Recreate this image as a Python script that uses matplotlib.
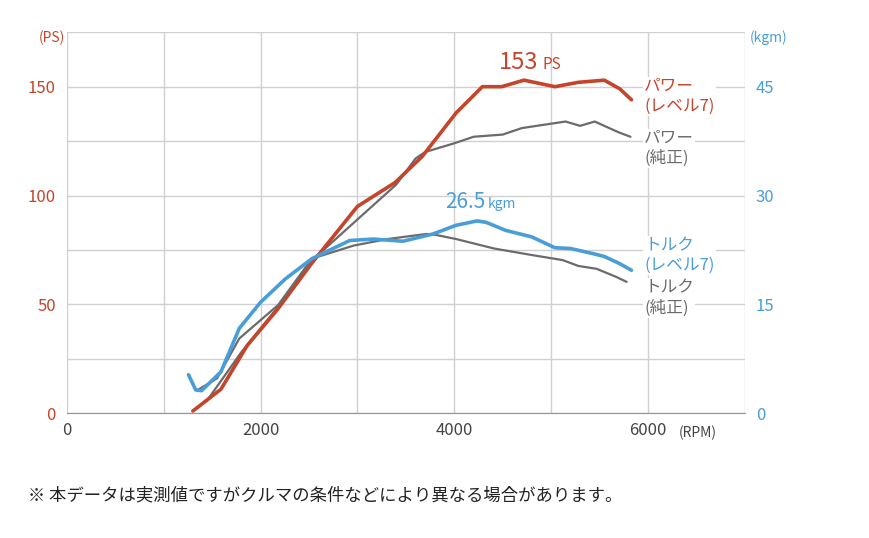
import numpy as np
import matplotlib.pyplot as plt

plt.rcParams['font.family'] = ['Noto Sans CJK JP', 'DejaVu Sans']

RED = "#c4452b"
BLUE = "#4a9ed8"
GRAY = "#6b6b6b"

# power (PS) - level 7
pw7_rpm = [1300, 1590, 1860, 2180, 2530, 3000, 3390, 3670, 4020, 4290, 4490, 4720, 5040, 5280, 5550, 5710, 5830]
pw7_ps = [1, 11, 31, 48, 69, 95, 106, 118, 138, 150, 150, 153, 150, 152, 153, 149, 144]
# power (PS) - stock
pws_rpm = [1300, 1450, 1800, 2200, 2500, 3000, 3400, 3600, 3700, 4000, 4200, 4500, 4700, 5000, 5150, 5300, 5450, 5700, 5820]
pws_ps = [1, 6, 28, 50, 69, 89, 105, 117, 120, 124, 127, 128, 131, 133, 134, 132, 134, 129, 127]
# torque (kgm) - level 7
tq7_rpm = [1255, 1330, 1390, 1590, 1780, 2000, 2255, 2530, 2920, 3160, 3470, 3780, 4020, 4235, 4330, 4530, 4800, 5040, 5200, 5430, 5550, 5710, 5830]
tq7_kgm = [5.3, 3.2, 3.1, 5.7, 11.7, 15.3, 18.5, 21.3, 23.8, 24.0, 23.7, 24.7, 25.9, 26.5, 26.3, 25.2, 24.3, 22.8, 22.7, 22.0, 21.6, 20.6, 19.7]
# torque (kgm) - stock
tqs_rpm = [1350, 1550, 1780, 2180, 2530, 2960, 3310, 3710, 3800, 4020, 4410, 4800, 5120, 5280, 5470, 5670, 5780]
tqs_kgm = [3.2, 4.8, 10.3, 14.9, 21.3, 23.1, 24.0, 24.7, 24.6, 24.0, 22.7, 21.8, 21.1, 20.3, 19.9, 18.8, 18.1]

fig = plt.figure(figsize=(8.7, 5.38), dpi=100)
ax = fig.add_axes([0.077, 0.232, 0.779, 0.708])
ax2 = ax.twinx()

ax.set_xlim(0, 7000)
ax.set_ylim(0, 175)
ax2.set_ylim(0, 52.5)

ax.set_xticks([0, 2000, 4000, 6000])
ax.set_xticks(range(0, 7001, 1000), minor=True)
ax.set_yticks([0, 50, 100, 150])
ax.set_yticks(np.arange(0, 176, 25), minor=True)
ax2.set_yticks([0, 15, 30, 45])
ax.grid(which="both", color="#d0d0d0", lw=1)
ax.set_axisbelow(True)

for a in (ax, ax2):
    for s in a.spines.values():
        s.set_visible(False)
    a.spines["bottom"].set_visible(True)
    a.spines["bottom"].set_color("#999999")
ax.tick_params(axis="both", which="both", length=0)
ax2.tick_params(axis="both", which="both", length=0)
ax.tick_params(axis="x", labelsize=12, colors="#444444", pad=6)
ax.tick_params(axis="y", labelsize=12, colors=RED, pad=8)
ax2.tick_params(axis="y", labelsize=12, colors=BLUE, pad=8)

line_kw = dict(solid_joinstyle="round", solid_capstyle="round")
ax2.plot(tqs_rpm, tqs_kgm, color=GRAY, lw=1.6, **line_kw)
ax.plot(pws_rpm, pws_ps, color=GRAY, lw=1.6, **line_kw)
ax2.plot(tq7_rpm, tq7_kgm, color=BLUE, lw=2.6, **line_kw)
ax.plot(pw7_rpm, pw7_ps, color=RED, lw=2.6, **line_kw)

fig.text(0.045, 0.922, "(PS)", color=RED, fontsize=10)
fig.text(0.862, 0.922, "(kgm)", color=BLUE, fontsize=10)
fig.text(0.78, 0.187, "(RPM)", color="#444444", fontsize=10)

ax.text(4870, 158, "153", color=RED, fontsize=17, ha="right")
ax.text(4910, 158, "PS", color=RED, fontsize=11, ha="left")
ax2.text(4320, 28.3, "26.5", color=BLUE, fontsize=15, ha="right")
ax2.text(4350, 28.3, "kgm", color=BLUE, fontsize=10, ha="left")

ax.text(5960, 139, "パワー\n(レベル7)", color=RED, fontsize=12, linespacing=1.2,
        bbox=dict(fc="white", ec="none", pad=1))
ax.text(5960, 115, "パワー\n(純正)", color=GRAY, fontsize=12, linespacing=1.2,
        bbox=dict(fc="white", ec="none", pad=1))
ax2.text(5960, 19.8, "トルク\n(レベル7)", color=BLUE, fontsize=12, linespacing=1.2,
         bbox=dict(fc="white", ec="none", pad=1))
ax2.text(5960, 13.9, "トルク\n(純正)", color=GRAY, fontsize=12, linespacing=1.2,
         bbox=dict(fc="white", ec="none", pad=1))

fig.text(0.032, 0.07, "※ 本データは実測値ですがクルマの条件などにより異なる場合があります。",
         color="#222222", fontsize=12.5)

fig.savefig("out.png", dpi=100)
